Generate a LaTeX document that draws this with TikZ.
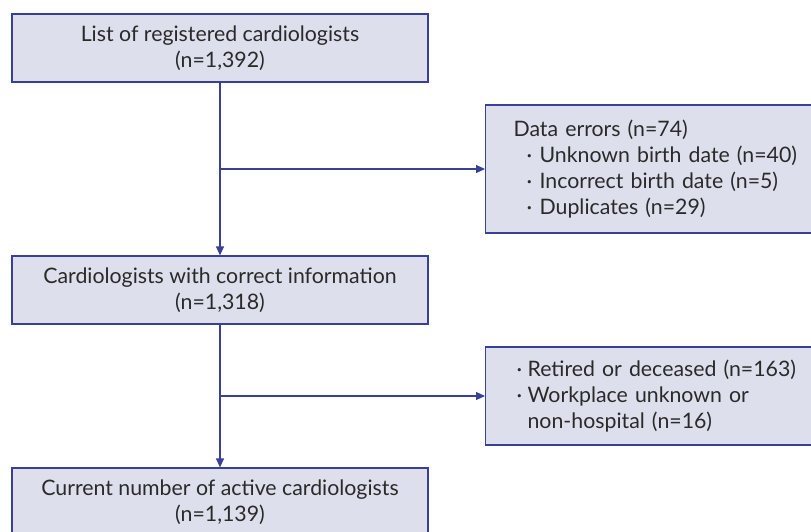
\documentclass[tikz,border=0pt]{standalone}
\usepackage{fontspec}
\setmainfont{Lato}
\usetikzlibrary{arrows.meta,positioning}
\definecolor{boxfill}{HTML}{DDDFEC}
\definecolor{boxline}{HTML}{3A3F98}
\definecolor{txt}{HTML}{2A2A2A}
\tikzset{
  flowbox/.style={draw=boxline, fill=boxfill, line width=1.2pt, text=txt,
    font=\fontsize{21.3}{26}\selectfont, inner sep=0pt},
  mainbox/.style={flowbox, minimum width=416pt, minimum height=68pt, align=center},
  sidebox/.style={flowbox, anchor=west, align=left},
  flowarrow/.style={draw=boxline, line width=1.2pt, -{Triangle[length=9pt,width=8pt]}}
}
\newcommand{\bul}[1]{\makebox[#1][l]{·}}
\begin{document}
\begin{tikzpicture}[x=1pt,y=-1pt]
\useasboundingbox (0,0) rectangle (811,531);
\clip (0,0) rectangle (811,531);
\node[mainbox] (reg) at (220,48) {List of registered cardiologists\\(n=1,392)};
\node[mainbox] (cor) at (220,290) {Cardiologists with correct information\\(n=1,318)};
\node[mainbox] (act) at (220,502) {Current number of active cardiologists\\(n=1,139)};
\node[sidebox, minimum height=128pt, minimum width=340pt, text width=300pt, inner xsep=28pt] (err) at (485,169)
  {Data errors (n=74)\\
   \hspace*{13pt}\bul{13pt}Unknown birth date (n=40)\\
   \hspace*{13pt}\bul{13pt}Incorrect birth date (n=5)\\
   \hspace*{13pt}\bul{13pt}Duplicates (n=29)};
\node[sidebox, minimum height=98pt, minimum width=340pt, text width=300pt, inner xsep=31pt] (ret) at (485,396)
  {\bul{11pt}Retired or deceased (n=163)\\
   \bul{11pt}Workplace unknown or\\
   \hspace*{11pt}non-hospital (n=16)};
\coordinate (j1) at (reg.south |- err.west);
\coordinate (j2) at (cor.south |- ret.west);
\draw[flowarrow] (reg.south) -- (cor.north);
\draw[flowarrow] (j1) -- (err.west);
\draw[flowarrow] (cor.south) -- (act.north);
\draw[flowarrow] (j2) -- (ret.west);
\end{tikzpicture}
\end{document}
